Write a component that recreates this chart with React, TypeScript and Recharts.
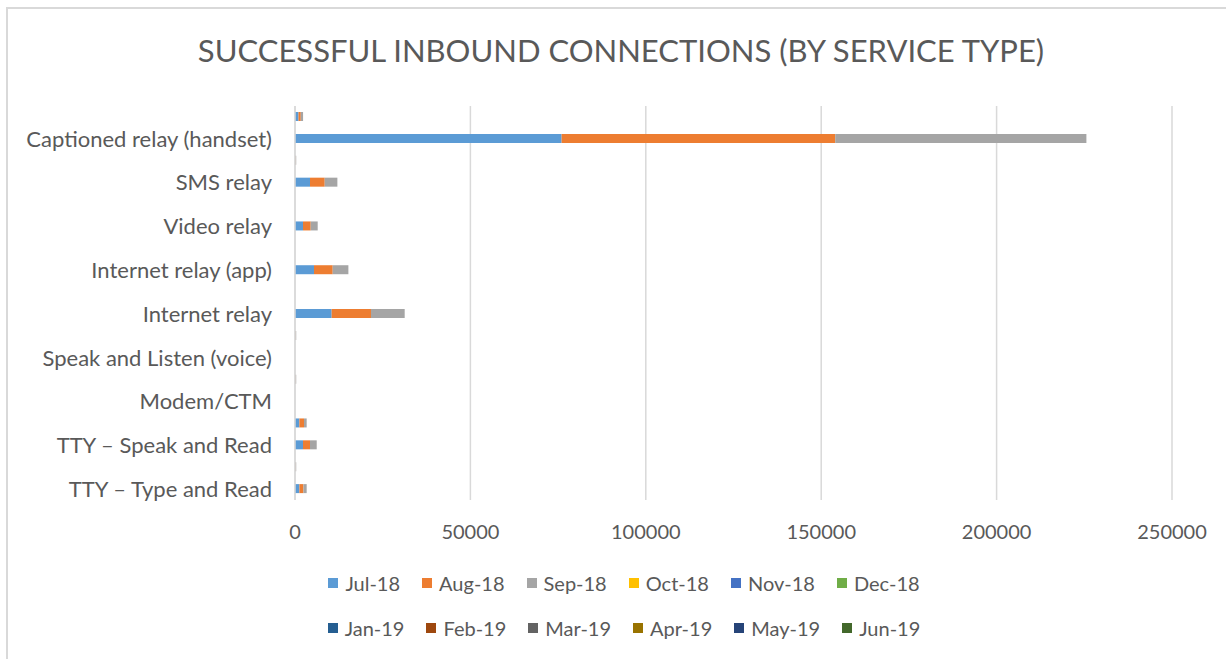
import React from "react";
import { BarChart, Bar, XAxis, YAxis, CartesianGrid, Legend } from "recharts";

const categories = [
  "",
  "Captioned relay (handset)",
  "",
  "SMS relay",
  "",
  "Video relay",
  "",
  "Internet relay (app)",
  "",
  "Internet relay",
  "",
  "Speak and Listen (voice)",
  "",
  "Modem/CTM",
  "",
  "TTY – Speak and Read",
  "",
  "TTY – Type and Read",
];

const months = ["Jul-18", "Aug-18", "Sep-18", "Oct-18", "Nov-18", "Dec-18", "Jan-19", "Feb-19", "Mar-19", "Apr-19", "May-19", "Jun-19"];
const colors = ["#5B9BD5", "#ED7D31", "#A5A5A5", "#FFC000", "#4472C4", "#70AD47", "#255E91", "#9E480E", "#636363", "#997300", "#264478", "#43682B"];

const jul18 = [1000, 76000, 100, 4280, 0, 2280, 0, 5420, 0, 10450, 100, 0, 100, 0, 1250, 2280, 100, 1250];
const aug18 = [650, 78000, 100, 4190, 0, 2200, 0, 5330, 0, 11210, 100, 0, 100, 0, 1320, 2000, 100, 1150];
const sep18 = [650, 71600, 150, 3610, 0, 1990, 0, 4470, 0, 9610, 150, 0, 150, 0, 760, 1910, 150, 930];
const oct18 = [0, 0, 0, 0, 0, 0, 0, 0, 0, 0, 0, 0, 0, 0, 0, 0, 0, 0];
const nov18 = [0, 0, 0, 0, 0, 0, 0, 0, 0, 0, 0, 0, 0, 0, 0, 0, 0, 0];
const dec18 = [0, 0, 0, 0, 0, 0, 0, 0, 0, 0, 0, 0, 0, 0, 0, 0, 0, 0];
const jan19 = [0, 0, 0, 0, 0, 0, 0, 0, 0, 0, 0, 0, 0, 0, 0, 0, 0, 0];
const feb19 = [0, 0, 0, 0, 0, 0, 0, 0, 0, 0, 0, 0, 0, 0, 0, 0, 0, 0];
const mar19 = [0, 0, 0, 0, 0, 0, 0, 0, 0, 0, 0, 0, 0, 0, 0, 0, 0, 0];
const apr19 = [0, 0, 0, 0, 0, 0, 0, 0, 0, 0, 0, 0, 0, 0, 0, 0, 0, 0];
const may19 = [0, 0, 0, 0, 0, 0, 0, 0, 0, 0, 0, 0, 0, 0, 0, 0, 0, 0];
const jun19 = [0, 0, 0, 0, 0, 0, 0, 0, 0, 0, 0, 0, 0, 0, 0, 0, 0, 0];

const xTicks = [0, 50000, 100000, 150000, 200000, 250000];

const seriesValues = [jul18, aug18, sep18, oct18, nov18, dec18, jan19, feb19, mar19, apr19, may19, jun19];

const data = categories.map((name, i) => {
  const row: Record<string, any> = { row: i, name };
  months.forEach((m, k) => {
    row[m] = seriesValues[k][i];
  });
  return row;
});

const FONT = "Lato, 'Open Sans', sans-serif";
const TEXT = "#595959";

const LegendContent = () => {
  const rows = [months.slice(0, 6), months.slice(6, 12)];
  return (
    <div style={{ fontFamily: FONT, color: TEXT, fontSize: 20 }}>
      {rows.map((r, ri) => (
        <div key={ri} style={{ height: 45, display: "flex", alignItems: "center", justifyContent: "center" }}>
          {r.map((m, j) => {
            const idx = months.indexOf(m);
            return (
              <div key={m} style={{ display: "flex", alignItems: "center", marginRight: j === r.length - 1 ? 0 : 22 }}>
                <span style={{ width: 10, height: 10, background: colors[idx], display: "inline-block", marginRight: 7 }} />
                <span>{m}</span>
              </div>
            );
          })}
        </div>
      ))}
    </div>
  );
};

export default function App() {
  return (
    <div style={{ position: "fixed", left: 0, top: 0, width: 1226, height: 659, background: "#fff", overflow: "hidden" }}>
      <div
        style={{
          position: "absolute",
          left: 6,
          top: 7,
          width: 1226,
          height: 659,
          borderTop: "2px solid #d9d9d9",
          borderLeft: "2px solid #d9d9d9",
        }}
      />
      <div
        style={{
          position: "absolute",
          left: 0,
          top: 31,
          width: 1242,
          textAlign: "center",
          fontFamily: FONT,
          fontSize: 31,
          color: TEXT,
          lineHeight: "38px",
        }}
      >
        SUCCESSFUL INBOUND CONNECTIONS (BY SERVICE TYPE)
      </div>
      <div style={{ position: "absolute", left: 0, top: 0 }}>
        <BarChart
          width={1226}
          height={659}
          data={data}
          layout="vertical"
          margin={{ top: 106, right: 54, bottom: 99, left: 0 }}
          barSize={9}
        >
          <CartesianGrid horizontal={false} vertical={true} stroke="#d9d9d9" strokeWidth={1.5} />
          <XAxis
            type="number"
            domain={[0, 250000]}
            ticks={xTicks}
            axisLine={false}
            tickLine={false}
            tickSize={0}
            tickMargin={25}
            height={60}
            tick={{ fill: TEXT, fontSize: 20, fontFamily: FONT }}
          />
          <YAxis
            type="category"
            dataKey="row"
            width={295}
            interval={0}
            tickFormatter={(v: number) => categories[v]}
            axisLine={{ stroke: "#d9d9d9", strokeWidth: 1.5 }}
            tickLine={false}
            tickSize={0}
            tickMargin={23}
            tick={{ fill: TEXT, fontSize: 22, fontFamily: FONT }}
          />
          {months.map((m, k) => (
            <Bar key={m} dataKey={m} stackId="a" fill={colors[k]} isAnimationActive={false} />
          ))}
          <Legend
            layout="horizontal"
            verticalAlign="middle"
            align="center"
            wrapperStyle={{ top: 560, left: 0, width: 1248 }}
            content={<LegendContent />}
          />
        </BarChart>
      </div>
    </div>
  );
}
